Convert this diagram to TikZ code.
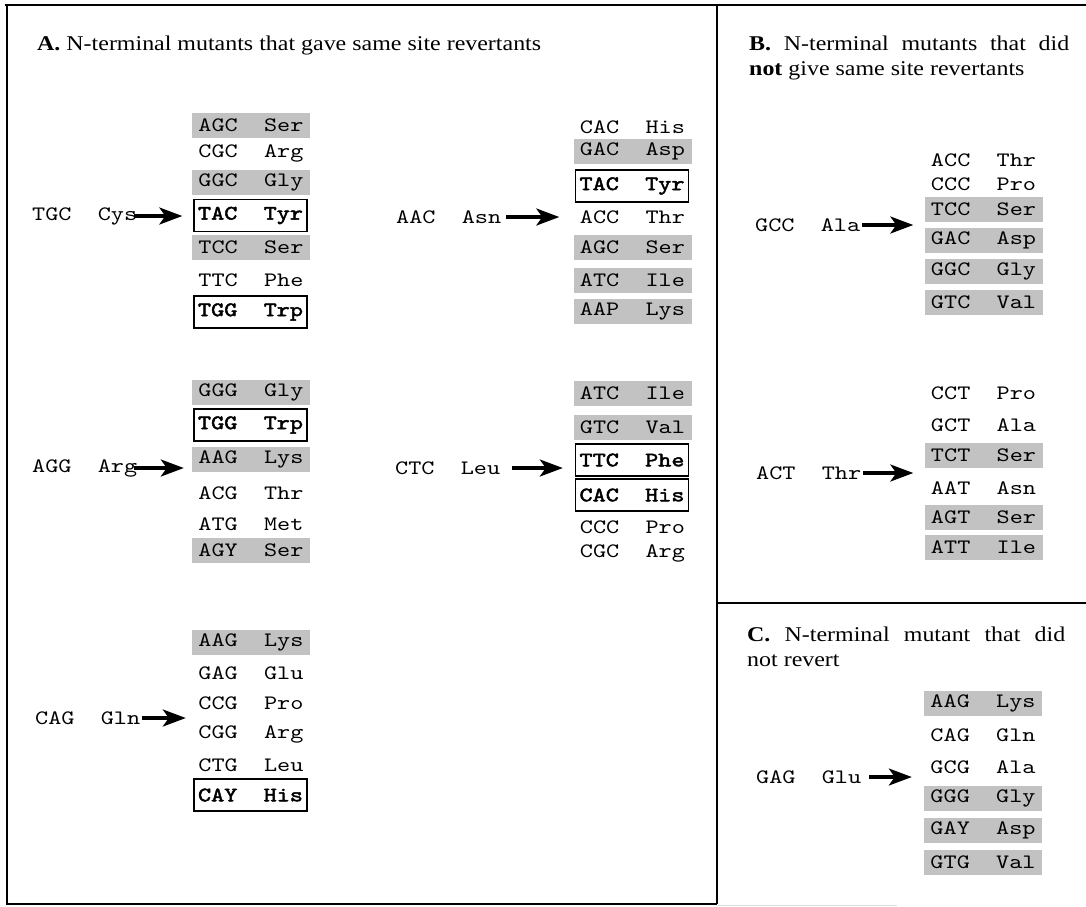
\documentclass[tikz,border=0pt]{standalone}
\usepackage{fontspec}
\setmainfont[FakeStretch=1.14]{Liberation Serif}
\setmonofont[BoldFont=lmmono10-regular.otf, BoldFeatures={FakeBold=2.2}, FakeStretch=1.22]{lmmono10-regular.otf}
\usetikzlibrary{arrows.meta}
\definecolor{shadegray}{gray}{0.76}
\newcommand\rwfont{\ttfamily\fontsize{20.5}{24}\selectfont}
\newcommand\ttlfnt{\rmfamily\fontsize{21}{24}\selectfont}
\newcommand\rw[2]{#1\hspace{2\fontcharwd\font`\A}#2}
\tikzset{
  rowplain/.style={font=\rwfont, inner sep=0pt, minimum width=118pt, minimum height=25pt},
  rowshade/.style={rowplain, fill=shadegray},
  rowbox/.style={rowplain, font=\rwfont\bfseries, draw, line width=1.4pt, minimum width=113pt, minimum height=32pt},
  mutlbl/.style={font=\rwfont, inner sep=0pt, anchor=west},
  bigarrow/.style={line width=3.2pt, -{Stealth[length=23pt,width=17pt,inset=6pt]}},
  ttl/.style={anchor=base west, inner sep=0pt, font=\ttlfnt},
  framelin/.style={line width=2.6pt}
}
\begin{document}
\begin{tikzpicture}[x=1pt,y=-1pt]
\useasboundingbox (0,0) rectangle (1086,906);
% frame
\draw[framelin] (5,5) -- (1086,5);
\draw[framelin] (7,4) -- (7,904) -- (717,904);
\draw[framelin] (717,4) -- (717,904);
\draw[line width=2pt] (717,603) -- (1086,603);
\draw[gray!25, line width=1pt] (717,905) -- (897,905);
% titles
\node[ttl] (tA) at (37,50) {\textbf{A.}\ N-terminal mutants that gave same site revertants};
\node[ttl] (tB1) at (749,50) {\makebox[320pt][s]{\textbf{B.} N-terminal mutants that did}};
\node[ttl] (tB2) at (749,75) {\textbf{not} give same site revertants};
\node[ttl] (tC1) at (747,641) {\makebox[318pt][s]{\textbf{C.} N-terminal mutant that did}};
\node[ttl] (tC2) at (747,666) {not revert};
% ---- A1: TGC Cys
\node[rowshade] (a1r1) at (251,125.5) {\rw{AGC}{Ser}};
\node[rowplain] (a1r2) at (251,153) {\rw{CGC}{Arg}};
\node[rowshade] (a1r3) at (251,182) {\rw{GGC}{Gly}};
\node[rowbox] (a1r4) at (250.5,215.5) {\rw{TAC}{Tyr}};
\node[rowshade] (a1r5) at (251,247) {\rw{TCC}{Ser}};
\node[rowplain] (a1r6) at (251,280) {\rw{TTC}{Phe}};
\node[rowbox] (a1r7) at (250.5,312) {\rw{TGG}{Trp}};
\node[mutlbl] (a1m) at (32,216) {\rw{TGC}{Cys}};
\draw[bigarrow, shorten <=-3pt, shorten >=11pt] (a1m.east) -- (a1m.east -| a1r4.west);
% ---- A2: AAC Asn
\node[rowplain] (a2r1) at (632.5,127) {\rw{CAC}{His}};
\node[rowshade] (a2r2) at (632.5,151) {\rw{GAC}{Asp}};
\node[rowbox] (a2r3) at (632,186) {\rw{TAC}{Tyr}};
\node[rowplain] (a2r4) at (632.5,217) {\rw{ACC}{Thr}};
\node[rowshade] (a2r5) at (632.5,247) {\rw{AGC}{Ser}};
\node[rowshade] (a2r6) at (632.5,280) {\rw{ATC}{Ile}};
\node[rowshade] (a2r7) at (632.5,311) {\rw{AAP}{Lys}};
\node[mutlbl] (a2m) at (396,217) {\rw{AAC}{Asn}};
\draw[bigarrow, shorten <=5pt, shorten >=14pt] (a2m.east) -- (a2m.east -| a2r4.west);
% ---- A3: AGG Arg
\node[rowshade] (a3r1) at (251,392) {\rw{GGG}{Gly}};
\node[rowbox] (a3r2) at (250.5,425) {\rw{TGG}{Trp}};
\node[rowshade] (a3r3) at (251,459) {\rw{AAG}{Lys}};
\node[rowplain] (a3r4) at (251,493) {\rw{ACG}{Thr}};
\node[rowplain] (a3r5) at (251,524) {\rw{ATG}{Met}};
\node[rowshade] (a3r6) at (251,550) {\rw{AGY}{Ser}};
\node[mutlbl] (a3m) at (32,468) {\rw{AGG}{Arg}};
\draw[bigarrow, shorten <=-3pt, shorten >=8pt] (a3m.east) -- (a3m.east -| a3r3.west);
% ---- A4: CTC Leu
\node[rowshade] (a4r1) at (632.5,393) {\rw{ATC}{Ile}};
\node[rowshade] (a4r2) at (632.5,427) {\rw{GTC}{Val}};
\node[rowbox] (a4r3) at (632,460) {\rw{TTC}{Phe}};
\node[rowbox] (a4r4) at (632,495) {\rw{CAC}{His}};
\node[rowplain] (a4r5) at (632.5,527) {\rw{CCC}{Pro}};
\node[rowplain] (a4r6) at (632.5,553) {\rw{CGC}{Arg}};
\node[mutlbl] (a4m) at (395,468) {\rw{CTC}{Leu}};
\draw[bigarrow, shorten <=12pt, shorten >=12pt] (a4m.east) -- (a4m.east -| a4r3.west);
% ---- A5: CAG Gln
\node[rowshade] (a5r1) at (251,642) {\rw{AAG}{Lys}};
\node[rowplain] (a5r2) at (251,673) {\rw{GAG}{Glu}};
\node[rowplain] (a5r3) at (251,703) {\rw{CCG}{Pro}};
\node[rowplain] (a5r4) at (251,734) {\rw{CGG}{Arg}};
\node[rowplain] (a5r5) at (251,765) {\rw{CTG}{Leu}};
\node[rowbox] (a5r6) at (250.5,795) {\rw{CAY}{His}};
\node[mutlbl] (a5m) at (35,718) {\rw{CAG}{Gln}};
\draw[bigarrow, shorten <=2pt, shorten >=6pt] (a5m.east) -- (a5m.east -| a5r3.west);
% ---- B1: GCC Ala
\node[rowplain] (b1r1) at (983.5,160) {\rw{ACC}{Thr}};
\node[rowplain] (b1r2) at (983.5,184) {\rw{CCC}{Pro}};
\node[rowshade] (b1r3) at (983.5,209) {\rw{TCC}{Ser}};
\node[rowshade] (b1r4) at (983.5,240) {\rw{GAC}{Asp}};
\node[rowshade] (b1r5) at (983.5,271) {\rw{GGC}{Gly}};
\node[rowshade] (b1r6) at (983.5,302) {\rw{GTC}{Val}};
\node[mutlbl] (b1m) at (755,225) {\rw{GCC}{Ala}};
\draw[bigarrow, shorten <=2pt, shorten >=11pt] (b1m.east) -- (b1m.east -| b1r3.west);
% ---- B2: ACT Thr
\node[rowplain] (b2r1) at (983.5,393) {\rw{CCT}{Pro}};
\node[rowplain] (b2r2) at (983.5,425) {\rw{GCT}{Ala}};
\node[rowshade] (b2r3) at (983.5,455) {\rw{TCT}{Ser}};
\node[rowplain] (b2r4) at (983.5,488) {\rw{AAT}{Asn}};
\node[rowshade] (b2r5) at (983.5,517) {\rw{AGT}{Ser}};
\node[rowshade] (b2r6) at (983.5,547) {\rw{ATT}{Ile}};
\node[mutlbl] (b2m) at (756,473) {\rw{ACT}{Thr}};
\draw[bigarrow, shorten <=2pt, shorten >=11pt] (b2m.east) -- (b2m.east -| b2r3.west);
% ---- C: GAG Glu
\node[rowshade] (c1r1) at (983,703) {\rw{AAG}{Lys}};
\node[rowplain] (c1r2) at (983,735) {\rw{CAG}{Gln}};
\node[rowplain] (c1r3) at (983,767) {\rw{GCG}{Ala}};
\node[rowshade] (c1r4) at (983,798) {\rw{GGG}{Gly}};
\node[rowshade] (c1r5) at (983,830) {\rw{GAY}{Asp}};
\node[rowshade] (c1r6) at (983,862) {\rw{GTG}{Val}};
\node[mutlbl] (c1m) at (756,777) {\rw{GAG}{Glu}};
\draw[bigarrow, shorten <=8pt, shorten >=12pt] (c1m.east) -- (c1m.east -| c1r3.west);
\end{tikzpicture}
\end{document}
